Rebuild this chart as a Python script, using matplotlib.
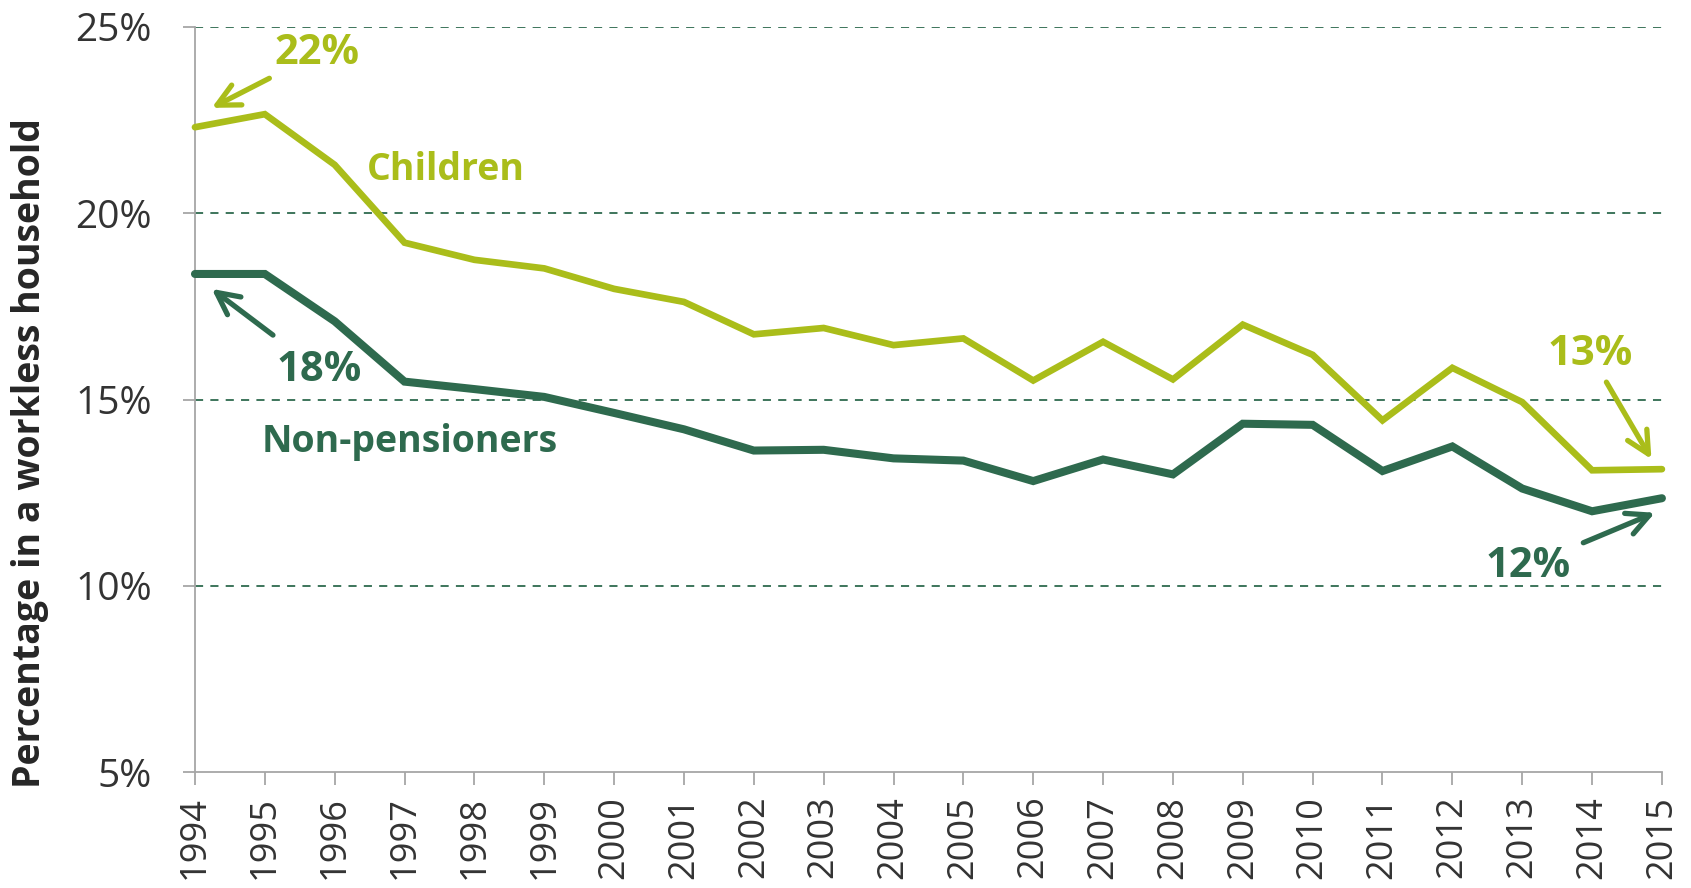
import matplotlib
matplotlib.use("Agg")
import matplotlib.pyplot as plt

years = list(range(1994, 2016))
children = [22.31, 22.66, 21.30, 19.21, 18.75, 18.52, 17.97, 17.62, 16.75, 16.92, 16.46,
            16.64, 15.51, 16.55, 15.54, 17.01, 16.20, 14.44, 15.85, 14.93, 13.10, 13.13]
non_pensioners = [18.37, 18.37, 17.10, 15.48, 15.28, 15.07, 14.64, 14.20, 13.63, 13.65, 13.42,
                  13.36, 12.81, 13.39, 12.99, 14.35, 14.32, 13.08, 13.74, 12.61, 12.00, 12.35]
y_ticks = [5, 10, 15, 20, 25]
y_tick_labels = ["5%", "10%", "15%", "20%", "25%"]

light = "#AABD1A"
dark = "#2E6A4E"
grey = "#A6A6A6"
text_col = "#333333"

plt.rcParams['font.family'] = ['Open Sans', 'DejaVu Sans']

fig = plt.figure(figsize=(16.91, 8.88), dpi=100)
ax = fig.add_axes([0.1153, 0.1306, 0.8675, 0.839])

for y in [10, 15, 20, 25]:
    ax.axhline(y, color=dark, lw=1.3, ls=(0, (4.5, 4)), zorder=1)

ax.plot(years, children, color=light, lw=4.8, solid_capstyle='round', solid_joinstyle='miter', zorder=3, clip_on=False)
ax.plot(years, non_pensioners, color=dark, lw=5.8, solid_capstyle='round', solid_joinstyle='miter', zorder=3, clip_on=False)

ax.set_xlim(1994, 2015)
ax.set_ylim(5, 25)
ax.set_xticks(years)
ax.set_xticklabels([str(y) for y in years], rotation=90, fontsize=26, color=text_col)
ax.set_yticks(y_ticks)
ax.set_yticklabels(y_tick_labels, fontsize=28, color=text_col)
ax.tick_params(axis='x', length=9, width=1.3, color=grey, pad=8)
ax.tick_params(axis='y', length=9, width=1.3, color=grey, pad=22)
for s in ['top', 'right']:
    ax.spines[s].set_visible(False)
for s in ['left', 'bottom']:
    ax.spines[s].set_color(grey)
    ax.spines[s].set_linewidth(1.3)

fig.text(0.018, 0.49, "Percentage in a workless household", fontsize=27, fontweight='bold',
         color="#262626", rotation=90, ha='center', va='center')

arrow_kw = dict(arrowstyle='->', lw=3.8, mutation_scale=40)

ax.annotate("22%", xy=(1994.24, 22.83), xytext=(1995.14, 24.28), fontsize=30, fontweight='bold',
            color=light, va='center', ha='left',
            arrowprops=dict(color=light, shrinkA=2, shrinkB=0, **arrow_kw))
ax.annotate("18%", xy=(1994.24, 17.97), xytext=(1995.17, 15.79), fontsize=30, fontweight='bold',
            color=dark, va='center', ha='left',
            arrowprops=dict(color=dark, shrinkA=14, shrinkB=0, **arrow_kw))
ax.annotate("13%", xy=(2014.85, 13.40), xytext=(2013.36, 16.22), fontsize=30, fontweight='bold',
            color=light, va='center', ha='left',
            arrowprops=dict(color=light, shrinkA=4, shrinkB=0, **arrow_kw))
ax.annotate("12%", xy=(2014.9, 11.96), xytext=(2012.47, 10.53), fontsize=30, fontweight='bold',
            color=dark, va='center', ha='left',
            arrowprops=dict(color=dark, shrinkA=8, shrinkB=0, **arrow_kw))

ax.text(1996.46, 21.16, "Children", fontsize=27, fontweight='bold', color=light, va='center', ha='left')
ax.text(1994.96, 13.86, "Non-pensioners", fontsize=27, fontweight='bold', color=dark, va='center', ha='left')

fig.savefig("out.png", dpi=100)
